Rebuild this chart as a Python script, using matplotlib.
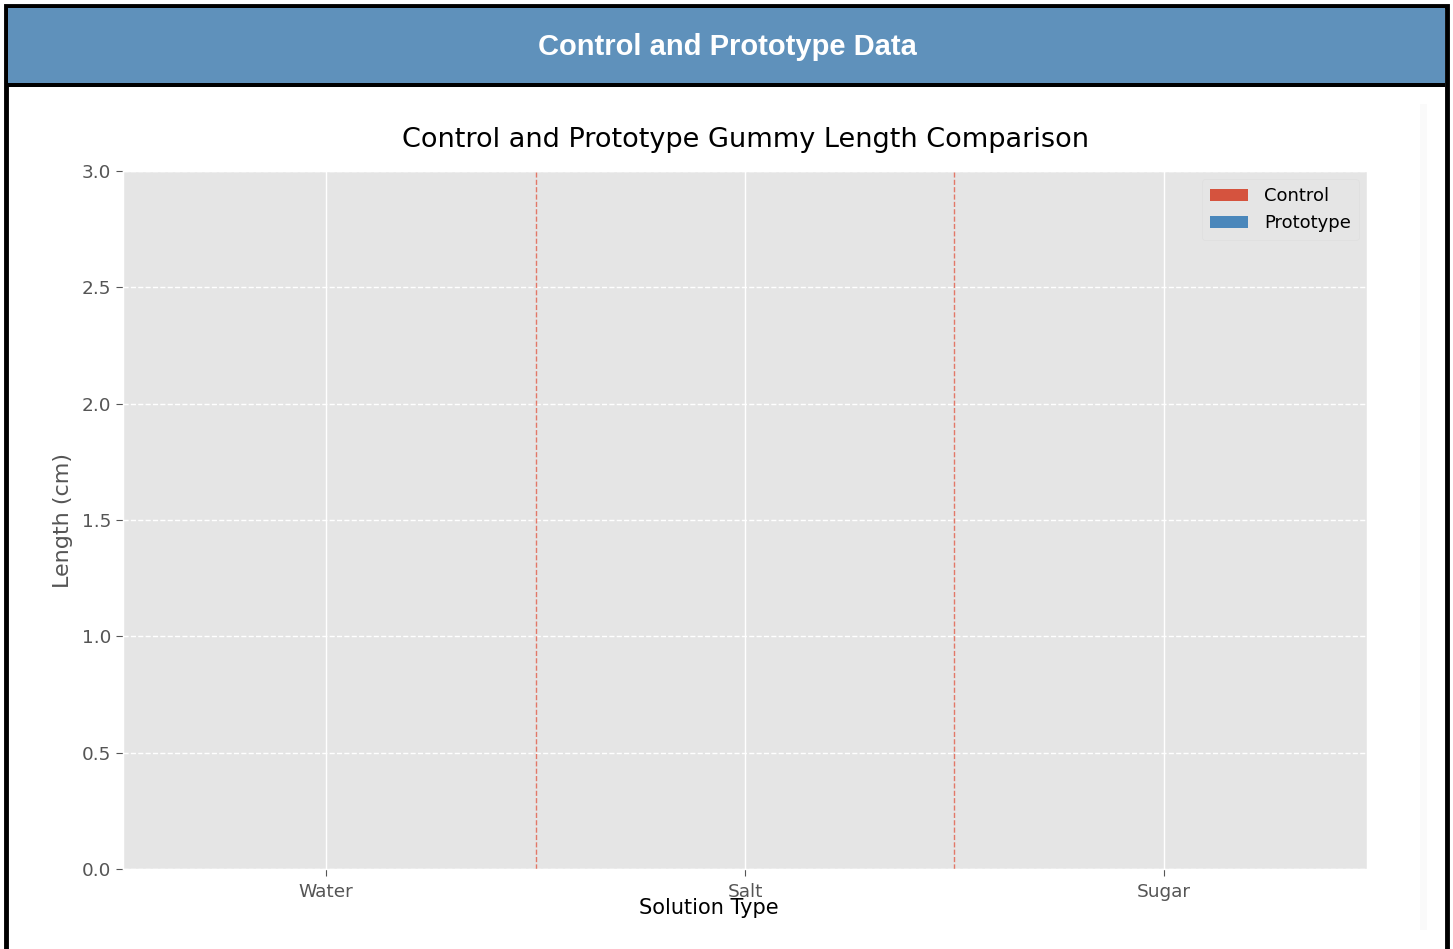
import matplotlib
matplotlib.use("Agg")
import matplotlib.pyplot as plt
import numpy as np
from matplotlib.patches import Rectangle

plt.style.use('ggplot')

categories = ["Water", "Salt", "Sugar"]
control_values = [0, 0, 0]
prototype_values = [0, 0, 0]
series_labels = ["Control", "Prototype"]
header_title = "Control and Prototype Data"
chart_title = "Control and Prototype Gummy Length Comparison"

W, H = 1453, 949
fig = plt.figure(figsize=(W / 100, H / 100), dpi=100)
fig.patch.set_facecolor("white")

def fx(px):
    return px / W

def fy(py):
    return 1 - py / H

# outer card border + header
fig.patches.append(Rectangle((fx(6), fy(949 + 10)), fx(1447) - fx(6), fy(6) - fy(959),
                             transform=fig.transFigure, facecolor="white",
                             edgecolor="black", linewidth=3.5, zorder=-5))
fig.patches.append(Rectangle((fx(8), fy(85)), fx(1445) - fx(8), fy(8) - fy(85),
                             transform=fig.transFigure, facecolor="#5f91bb",
                             edgecolor="none", zorder=-4))
fig.patches.append(Rectangle((fx(8), fy(87)), fx(1445) - fx(8), fy(83) - fy(87),
                             transform=fig.transFigure, facecolor="black",
                             edgecolor="none", zorder=-3))
fig.patches.append(Rectangle((fx(1420), fy(930)), fx(1427) - fx(1420), fy(104) - fy(930),
                             transform=fig.transFigure, facecolor="#fafafa",
                             edgecolor="none", zorder=-4))
fig.text(fx(727), fy(47), header_title, color="white", fontsize=21, fontweight="bold",
         family=["Liberation Sans", "DejaVu Sans"], ha="center", va="center")

ax = fig.add_axes([fx(123), fy(869), fx(1367) - fx(123), fy(171) - fy(869)])
x = np.arange(len(categories))
width = 0.35
ax.bar(x - width / 2, control_values, width, label=series_labels[0], color="#D5533E")
ax.bar(x + width / 2, prototype_values, width, label=series_labels[1], color="#4A87BB")

for xv in x[:-1] + 0.5:
    ax.axvline(xv, color="#E24A33", linestyle="--", linewidth=1, alpha=0.7)

ax.set_ylim(0, 3.0)
ax.set_yticks(np.arange(0, 3.01, 0.5))
ax.set_xticks(x)
ax.set_xticklabels(categories)
ax.tick_params(axis="both", labelsize=13.3, colors="#555555", length=5)
ax.tick_params(axis="x", pad=5)
ax.grid(axis="y", linestyle="--", color="white", linewidth=1)
ax.grid(axis="x", linestyle="-", color="white", linewidth=1)
ax.set_axisbelow(True)

ax.set_title(chart_title, fontsize=19.5, color="black", pad=17)
ax.set_ylabel("Length (cm)", fontsize=16, color="#555555", labelpad=6)
fig.text(fx(709), fy(908), "Solution Type", fontsize=15, color="black", ha="center", va="center")

leg = ax.legend(loc="upper right", fontsize=13, frameon=True, borderpad=0.45,
                handlelength=2.1, handletextpad=0.9, borderaxespad=0.45)
leg.get_frame().set_facecolor("#E5E5E5")
leg.get_frame().set_edgecolor("#dddddd")

fig.savefig("out.png", dpi=100)
